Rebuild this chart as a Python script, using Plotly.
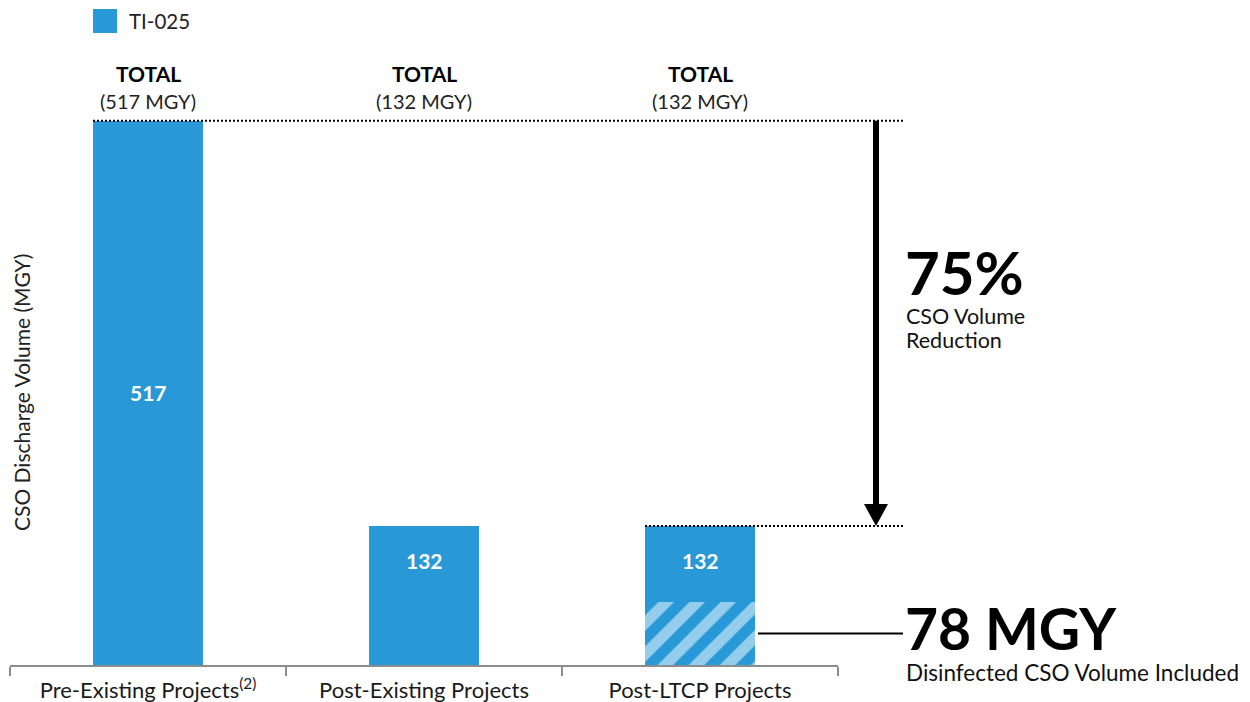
import plotly.graph_objects as go

# ---------------- data ----------------
categories = ["Pre-Existing Projects<sup>(2)</sup>", "Post-Existing Projects", "Post-LTCP Projects"]
totals = [517, 132, 132]
disinfected = [0, 0, 60]          # hatched (disinfected) portion as drawn
series_name = "TI-025"
total_labels = ["(517 MGY)", "(132 MGY)", "(132 MGY)"]
reduction_text = "75%"
disinfected_text = "78 MGY"

# ---------------- layout constants ----------------
OFF = 8                      # page body margin
W, H = 1250 - OFF, 702 - OFF
L, R, T, B = 2, 412, 99, 37
PW, PH = W - L - R, H - T - B
YMAX = 530
BLUE = "#2899D6"
HATCH = "#95CDEC"
FONT = "Source Sans Pro, Lato, Noto Sans, sans-serif"

def px(x):
    return (x - OFF - L) / PW

def py(y):
    return (H - B - (y - OFF)) / PH

solid = [t - d for t, d in zip(totals, disinfected)]

fig = go.Figure()
fig.add_trace(go.Bar(
    x=categories, y=disinfected, name=series_name + " (disinfected)", showlegend=False,
    marker=dict(color=BLUE, line=dict(width=0),
                pattern=dict(shape="/", bgcolor=BLUE, fgcolor=HATCH, fgopacity=1, size=22, solidity=0.5)),
    hoverinfo="skip"))
fig.add_trace(go.Bar(
    x=categories, y=solid, name=series_name, showlegend=False,
    marker=dict(color=BLUE, line=dict(width=0))))

ann = []
shapes = []

# bar value labels
for i, (c, t) in enumerate(zip(categories, totals)):
    ly = t / 2 if t == max(totals) else (t + max(disinfected)) / 2
    ann.append(dict(x=c, y=ly, xref="x", yref="y", text=f"<b>{t}</b>", showarrow=False,
                    xanchor="center", yanchor="middle", yshift=0 if t == max(totals) else 3,
                    font=dict(family=FONT, size=21, color="white")))
    ann.append(dict(x=c, y=max(totals), xref="x", yref="y", text="<b>TOTAL</b>", showarrow=False,
                    xanchor="center", yanchor="middle", yshift=47,
                    font=dict(family=FONT, size=21, color="black")))
    ann.append(dict(x=c, y=max(totals), xref="x", yref="y", text=total_labels[i], showarrow=False,
                    xanchor="center", yanchor="middle", yshift=20,
                    font=dict(family=FONT, size=20, color="#222222")))

# dotted reference lines
shapes.append(dict(type="line", xref="paper", yref="y", x0=px(93), x1=px(903),
                   y0=max(totals), y1=max(totals), line=dict(color="black", width=2, dash="2px,2px")))
shapes.append(dict(type="line", xref="paper", yref="y", x0=px(645), x1=px(903),
                   y0=totals[2], y1=totals[2], line=dict(color="black", width=2, dash="2px,2px")))

# arrow
hl = 22 * YMAX / PH
shapes.append(dict(type="line", xref="paper", yref="y", x0=px(876), x1=px(876),
                   y0=max(totals), y1=totals[2] + hl, line=dict(color="black", width=6)))
shapes.append(dict(type="path", xref="paper", yref="y",
                   path=f"M {px(864)},{totals[2] + hl} L {px(888)},{totals[2] + hl} L {px(876)},{totals[2]} Z",
                   fillcolor="black", line=dict(width=0)))

# connector to hatched part
shapes.append(dict(type="line", xref="paper", yref="y", x0=px(758), x1=px(903),
                   y0=disinfected[2] / 2, y1=disinfected[2] / 2, line=dict(color="black", width=2)))

# legend
shapes.append(dict(type="rect", xref="paper", yref="paper", x0=px(93), x1=px(117),
                   y0=py(33), y1=py(9), fillcolor=BLUE, line=dict(width=0)))
ann.append(dict(x=px(127), y=py(21), xref="paper", yref="paper", text=series_name, showarrow=False,
                xanchor="left", yanchor="middle", font=dict(family=FONT, size=20.5, color="#222222")))

# right-side callouts
ann.append(dict(x=px(903), y=py(272), xref="paper", yref="paper", text=f"<b>{reduction_text}</b>",
                showarrow=False, xanchor="left", yanchor="middle",
                font=dict(family=FONT, size=60, color="black")))
ann.append(dict(x=px(904), y=py(316), xref="paper", yref="paper", text="CSO Volume",
                showarrow=False, xanchor="left", yanchor="middle",
                font=dict(family=FONT, size=21.5, color="#111111")))
ann.append(dict(x=px(904), y=py(340), xref="paper", yref="paper", text="Reduction",
                showarrow=False, xanchor="left", yanchor="middle",
                font=dict(family=FONT, size=21.5, color="#111111")))
ann.append(dict(x=px(903), y=py(628), xref="paper", yref="paper", text=f"<b>{disinfected_text}</b>",
                showarrow=False, xanchor="left", yanchor="middle",
                font=dict(family=FONT, size=57, color="black")))
ann.append(dict(x=px(904), y=py(672), xref="paper", yref="paper", text="Disinfected CSO Volume Included",
                showarrow=False, xanchor="left", yanchor="middle",
                font=dict(family=FONT, size=22.5, color="#111111")))

# y-axis title
ann.append(dict(x=px(21), y=py(393), xref="paper", yref="paper", text="CSO Discharge Volume (MGY)",
                showarrow=False, textangle=-90, xanchor="center", yanchor="middle",
                font=dict(family=FONT, size=21, color="#222222")))

fig.update_layout(
    width=W, height=H, margin=dict(l=L, r=R, t=T, b=B, autoexpand=False),
    paper_bgcolor="white", plot_bgcolor="white",
    barmode="stack", bargap=0.6, showlegend=False,
    font=dict(family=FONT, size=20, color="#222222"),
    annotations=ann, shapes=shapes,
    xaxis=dict(type="category", range=[-0.5, 2.5], showline=True, linecolor="#8c8c8c", linewidth=2,
               ticks="outside", tickson="boundaries", ticklen=9, tickwidth=2, tickcolor="#8c8c8c",
               ticklabelstandoff=5, automargin=False,
               showgrid=False, tickfont=dict(family=FONT, size=22, color="#1a1a1a"), fixedrange=True),
    yaxis=dict(range=[0, YMAX], visible=False, fixedrange=True, automargin=False),
)

fig.write_html("out.html")
